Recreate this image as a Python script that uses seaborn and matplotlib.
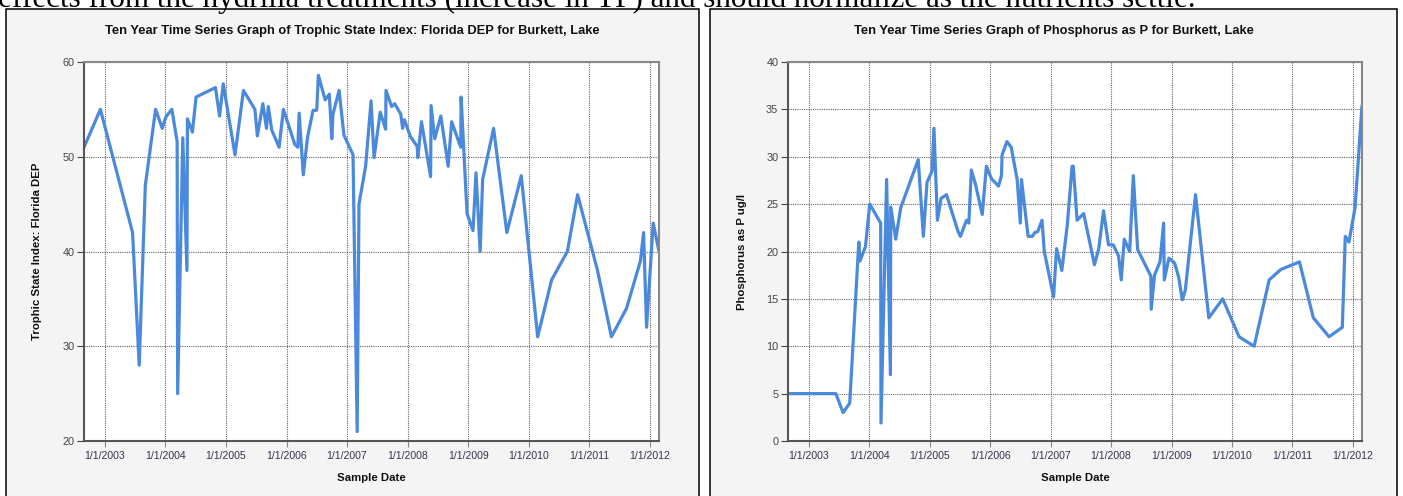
import pandas as pd
import seaborn as sns
import matplotlib.pyplot as plt
import matplotlib.dates as mdates
from matplotlib.ticker import FuncFormatter, MultipleLocator
from matplotlib.patches import Rectangle

# Trophic State Index (Florida DEP), Burkett Lake
tsi_dates = [
    "2002-08-28", "2002-12-05", "2003-06-17", "2003-07-27", "2003-09-02", "2003-11-03",
    "2003-12-13", "2004-01-04", "2004-02-09", "2004-03-12", "2004-03-15", "2004-04-15",
    "2004-05-10", "2004-05-13", "2004-06-12", "2004-07-04", "2004-10-29", "2004-11-23",
    "2004-12-15", "2005-02-24", "2005-04-16", "2005-06-24", "2005-07-09", "2005-08-11",
    "2005-09-02", "2005-09-13", "2005-10-04", "2005-11-17", "2005-12-13", "2006-02-20",
    "2006-03-10", "2006-03-18", "2006-04-12", "2006-05-08", "2006-06-10", "2006-07-02",
    "2006-07-12", "2006-08-22", "2006-09-16", "2006-10-01", "2006-10-08", "2006-11-14",
    "2006-12-13", "2007-02-06", "2007-03-03", "2007-03-14", "2007-04-23", "2007-05-26",
    "2007-06-13", "2007-07-20", "2007-08-22", "2007-08-24", "2007-09-27", "2007-10-15",
    "2007-11-21", "2007-12-02", "2007-12-13", "2008-01-19", "2008-02-28", "2008-03-03",
    "2008-03-25", "2008-05-19", "2008-05-22", "2008-06-13", "2008-07-20", "2008-09-02",
    "2008-09-23", "2008-11-17", "2008-11-19", "2008-12-25", "2009-01-30", "2009-02-17",
    "2009-03-14", "2009-03-29", "2009-06-03", "2009-08-22", "2009-11-17", "2010-02-24",
    "2010-05-19", "2010-08-22", "2010-10-23", "2011-02-20", "2011-05-15", "2011-08-14",
    "2011-11-06", "2011-11-25", "2011-12-13", "2012-01-22", "2012-02-26",
]
tsi_values = [
    51, 55, 42, 28, 47, 55,
    53, 54.2, 55, 51.6, 25, 52,
    38, 54, 52.6, 56.3, 57.3, 54.3,
    57.7, 50.2, 57, 55, 52.2, 55.6,
    53, 55.3, 52.8, 51, 55, 51.3,
    51, 54.6, 48.1, 52.1, 54.9, 54.9,
    58.6, 56, 56.6, 51.9, 54.5, 57,
    52.3, 50.2, 21, 45, 49, 55.9,
    49.9, 54.7, 52.9, 57, 55.3, 55.6,
    54.5, 53, 53.9, 52.1, 51.1, 49.9,
    53.7, 47.9, 55.4, 51.9, 54.3, 49,
    53.7, 51, 56.3, 44, 42.2, 48.3,
    40, 47.6, 53, 42, 48, 31,
    37, 40, 46, 38, 31, 34,
    39, 42, 32, 43, 40,
]

# Phosphorus as P (ug/l), Burkett Lake
tp_dates = [
    "2002-08-28", "2003-06-13", "2003-07-27", "2003-09-05", "2003-10-30", "2003-11-06",
    "2003-12-09", "2004-01-04", "2004-03-10", "2004-03-12", "2004-04-15", "2004-05-08",
    "2004-05-10", "2004-06-09", "2004-07-09", "2004-10-23", "2004-11-23", "2004-12-15",
    "2005-01-15", "2005-01-26", "2005-02-16", "2005-03-10", "2005-04-12", "2005-06-10",
    "2005-06-21", "2005-07-05", "2005-08-11", "2005-08-25", "2005-09-09", "2005-10-04",
    "2005-11-14", "2005-12-09", "2006-01-08", "2006-02-20", "2006-03-10", "2006-03-14",
    "2006-04-12", "2006-05-08", "2006-06-13", "2006-07-02", "2006-07-09", "2006-08-18",
    "2006-09-13", "2006-09-27", "2006-10-15", "2006-11-10", "2006-11-24", "2007-01-19",
    "2007-02-06", "2007-03-10", "2007-04-12", "2007-05-11", "2007-05-18", "2007-06-10",
    "2007-07-20", "2007-08-18", "2007-09-23", "2007-10-19", "2007-11-17", "2007-12-17",
    "2008-01-15", "2008-02-16", "2008-03-03", "2008-03-21", "2008-04-23", "2008-05-15",
    "2008-06-10", "2008-08-29", "2008-08-31", "2008-09-20", "2008-10-23", "2008-11-14",
    "2008-11-18", "2008-12-16", "2009-01-19", "2009-02-13", "2009-03-07", "2009-03-25",
    "2009-05-26", "2009-08-14", "2009-11-06", "2010-02-13", "2010-05-15", "2010-08-14",
    "2010-10-23", "2011-02-13", "2011-05-08", "2011-08-11", "2011-10-30", "2011-11-17",
    "2011-12-09", "2012-01-15", "2012-02-26",
]
tp_values = [
    5, 5, 3, 4, 21, 19,
    20.5, 25, 23, 1.9, 27.6, 7,
    24.7, 21.3, 24.6, 29.7, 21.6, 27.3,
    28.5, 33, 23.3, 25.6, 26, 22.7,
    22.1, 21.6, 23.3, 23, 28.6, 27.1,
    23.9, 29, 27.7, 26.9, 28, 30.2,
    31.6, 31, 27.6, 23, 27.6, 21.6,
    21.6, 22, 22.1, 23.3, 20, 15.2,
    20.3, 18, 22.8, 29, 29, 23.3,
    24, 21.6, 18.6, 20.3, 24.3, 20.7,
    20.7, 19.5, 17, 21.3, 20, 28,
    20.2, 17.4, 13.9, 17.5, 18.9, 23,
    17, 19.3, 18.8, 17.3, 14.9, 15.9,
    26, 13, 15, 11, 10, 17,
    18.1, 18.9, 13, 11, 12, 21.6,
    21, 24.6, 35.4,
]

tsi = pd.DataFrame({"date": pd.to_datetime(tsi_dates), "value": tsi_values})
tp = pd.DataFrame({"date": pd.to_datetime(tp_dates), "value": tp_values})

sns.set_style("ticks")
plt.rcParams['font.family'] = ['Liberation Sans', 'DejaVu Sans']

W, H = 1403, 496
fig = plt.figure(figsize=(W / 100, H / 100), dpi=100)

# text line cut off at the top of the screenshot
fig.text(-2 / W, 1 - 7 / H,
         "effects from the hydrilla treatments (increase in TP) and should normalize as the nutrients settle.",
         family=['Liberation Serif'], fontsize=22.4, va='baseline', ha='left', color='black')

line_color = "#4a89dc"
grid_kw = dict(color="#666666", linestyle=(0, (1, 1)), linewidth=0.8)


def date_fmt(x, pos):
    d = mdates.num2date(x)
    return f"{d.month}/{d.day}/{d.year}"


panels = [
    dict(df=tsi, px=(6, 699), ax_px=(84, 659), ylab_x=42, ylim=(20, 60), ystep=10,
         title="Ten Year Time Series Graph of Trophic State Index: Florida DEP for Burkett, Lake",
         ylabel="Trophic State Index: Florida DEP"),
    dict(df=tp, px=(710, 1397), ax_px=(788, 1362), ylab_x=747, ylim=(0, 40), ystep=5,
         title="Ten Year Time Series Graph of Phosphorus as P for Burkett, Lake",
         ylabel="Phosphorus as P ug/l"),
]

for p in panels:
    x0, x1 = p["px"]
    fig.add_artist(Rectangle((x0 / W, -0.05), (x1 - x0) / W, 1.05 - 9 / H,
                             transform=fig.transFigure, facecolor="#f4f4f4",
                             edgecolor="black", linewidth=1.1, zorder=-5))
    fig.text((x0 + x1) / 2 / W, 1 - 31 / H, p["title"], ha="center", va="center",
             fontsize=9.3, fontweight="bold", color="#111111")

    a0, a1 = p["ax_px"]
    ax = fig.add_axes([a0 / W, 1 - 441 / H, (a1 - a0) / W, (441 - 62) / H])
    ax.set_facecolor("white")
    sns.lineplot(data=p["df"], x="date", y="value", ax=ax, color=line_color,
                 linewidth=2.3, estimator=None, sort=False)

    ax.set_xlim(p["df"]["date"].min(), p["df"]["date"].max())
    ax.set_ylim(*p["ylim"])
    ax.xaxis.set_major_locator(mdates.YearLocator())
    ax.xaxis.set_major_formatter(FuncFormatter(date_fmt))
    ax.yaxis.set_major_locator(MultipleLocator(p["ystep"]))

    ax.set_axisbelow(True)
    ax.grid(True, **grid_kw)
    ax.tick_params(axis="x", length=4, width=0.8, color="#888888", labelsize=7.6,
                   labelcolor="#3a3050", pad=3)
    ax.tick_params(axis="y", length=5, width=0.8, color="#444444", labelsize=7.8,
                   labelcolor="#444444", pad=2)

    for side in ["left", "bottom"]:
        ax.spines[side].set_color("#555555")
        ax.spines[side].set_linewidth(1.5)
    for side in ["top", "right"]:
        ax.spines[side].set_color("#888888")
        ax.spines[side].set_linewidth(1.5)

    ax.set_xlabel("Sample Date", fontsize=8.2, fontweight="bold", color="#111111", labelpad=9)
    ax.set_ylabel(p["ylabel"], fontsize=8.2, fontweight="bold", color="#111111")
    ax.yaxis.set_label_coords((p["ylab_x"] - a0) / (a1 - a0), 0.5)

fig.savefig("out.png", dpi=100)
